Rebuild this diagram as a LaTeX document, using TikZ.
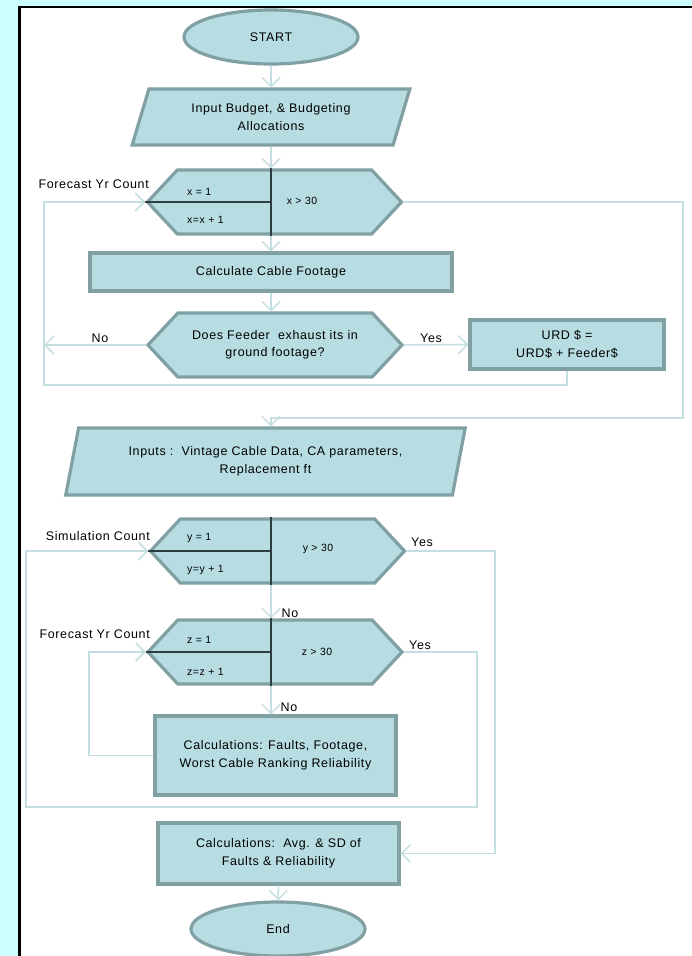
\documentclass[tikz,border=0pt]{standalone}
\usepackage{fontspec}
\setmainfont{Liberation Sans}[LetterSpace=5]
\usepackage{tikz}
\usetikzlibrary{calc,positioning,shapes.geometric,shapes.symbols,arrows.meta}
\definecolor{bgcyan}{RGB}{204,255,255}
\definecolor{boxfill}{RGB}{183,221,226}
\definecolor{boxline}{RGB}{128,160,164}
\definecolor{flow}{RGB}{196,222,225}
\definecolor{divide}{RGB}{45,62,64}

\begin{document}
\begin{tikzpicture}[x=1pt, y=-1pt,
base/.style={
	draw=boxline, fill=boxfill, line width=3.2pt,
	inner sep=2pt, align=center, text=black,
	font=\fontsize{12.5}{17.5}\selectfont
},
term/.style={base, ellipse, minimum width=174pt, minimum height=54pt},
io/.style={base, trapezium, trapezium stretches=true},
proc/.style={base, rectangle},
loopbox/.style={base, signal, signal to=west and east,
	signal pointer angle=94, minimum width=254pt, minimum height=64pt},
lbl/.style={font=\fontsize{12.5}{14}\selectfont, inner sep=0pt},
small/.style={font=\fontsize{10.5}{12}\selectfont, inner sep=0pt},
ln/.style={draw=flow, line width=1.5pt},
arr/.style={ln, -{Straight Barb[length=9pt,width=18pt]}},
split/.style={draw=divide, line width=1.5pt}
]
\useasboundingbox (0,0) rectangle (692,956);
\fill[bgcyan] (0,0) rectangle (692,956);
\fill[white] (19.5,7) rectangle (692,956);
\draw[line width=2.4pt] (19.5,956) -- (19.5,7) -- (692,7);

\coordinate (col) at (271,0);
\node[term] (start) at (271,37) {START};
\node[io, minimum width=278pt, minimum height=56pt,
	trapezium left angle=70, trapezium right angle=110] (budget) at (271,117)
	{Input Budget, \& Budgeting\\Allocations};
\node[loopbox] (h1) at (274.5,202) {};
\node[proc, minimum width=362pt, minimum height=38pt] (calc) at (271,272) {Calculate Cable Footage};
\node[loopbox] (h2) at (275,345) {Does Feeder\ \ exhaust its in\\ground footage?};
\node[proc, minimum width=194pt, minimum height=49pt] (urd) at (567,344.5) {URD \$ =\\URD\$ + Feeder\$};
\node[io, minimum width=401pt, minimum height=67pt,
	trapezium left angle=74, trapezium right angle=106] (inputs) at (265.5,461.5)
	{Inputs :\ \ Vintage Cable Data, CA parameters,\\Replacement ft};
\node[loopbox] (h3) at (277.5,551) {};
\node[loopbox] (h4) at (275,652) {};
\node[proc, minimum width=241pt, minimum height=79pt] (calc1) at (275.5,755.5)
	{Calculations: Faults, Footage,\\Worst Cable Ranking Reliability};
\node[proc, minimum width=241pt, minimum height=61pt] (calc2) at (278.5,853.5)
	{Calculations:\ \ Avg. \& SD of\\Faults \& Reliability};
\node[term] (end) at (278,929) {End};

\foreach \h in {h1,h3,h4}
{
	\draw[split] (\h.north -| col) -- (\h.south -| col);
	\draw[split] (\h.west) -- (\h.west -| col);
}
\node[small, anchor=west] (x1) at (187,192) {x = 1};
\node[small, anchor=west] (x2) at (187,220) {x=x + 1};
\node[small] (x3) at (302,201) {x > 30};
\node[small, anchor=west] (y1) at (187,538) {y = 1};
\node[small, anchor=west] (y2) at (187,570) {y=y + 1};
\node[small] (y3) at (318,549) {y > 30};
\node[small, anchor=west] (z1) at (187,640) {z = 1};
\node[small, anchor=west] (z2) at (187,672) {z=z + 1};
\node[small] (z3) at (317,652) {z > 30};

\node[lbl, anchor=east] (fc1) at (149,184) {Forecast Yr Count};
\node[lbl, anchor=east] (sc) at (150,536) {Simulation Count};
\node[lbl, anchor=east] (fc2) at (150,634) {Forecast Yr Count};

\foreach \a/\b in {start/budget, budget/h1, h1/calc, calc/h2, h3/h4, h4/calc1}
	\draw[arr] (\a.south -| col) -- (\b.north -| col);
\draw[arr] (calc2) -- (end);

\coordinate (r1) at (683,418);
\coordinate (lp1) at (44,385);
\coordinate (r2) at (495,853.5);
\coordinate (r3) at (477,807);
\coordinate (l3) at (26,807);
\coordinate (l4) at (89,755.5);

\draw[arr] (h1.east) -| (r1) -- (r1 -| col) -- (inputs.north -| col);
\draw[arr] (h2.west) -- (h2.west -| lp1);
\draw[arr] (h2.east) -- (urd.west);
\draw[arr] (urd.south) |- (lp1) |- (h1.west);
\draw[arr] (h3.east) -| (r2) -- (calc2.east);
\draw[arr] (h4.east) -| (r3) -- (l3) |- (h3.west);
\draw[arr] (calc1.west) -- (l4) |- (h4.west);

\node[lbl] (no1) at (100,338) {No};
\node[lbl] (yes1) at (431,338) {Yes};
\node[lbl] (yes2) at (422,542) {Yes};
\node[lbl] (no2) at (290,613) {No};
\node[lbl] (yes3) at (420,645) {Yes};
\node[lbl] (no3) at (289,707) {No};
\end{tikzpicture}
\end{document}
